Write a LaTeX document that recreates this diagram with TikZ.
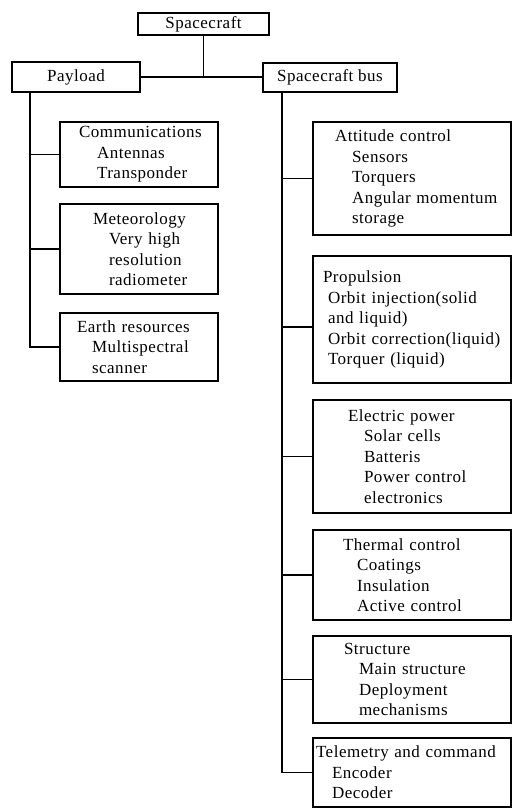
\documentclass[tikz,border=0pt]{standalone}
\usepackage{fontspec}
\setmainfont{Liberation Serif}[LetterSpace=3]
\usetikzlibrary{positioning, calc}
\newcommand{\indnt}[1]{\hspace*{#1pt}}

\begin{document}
\begin{tikzpicture}[x=1pt,y=-1pt,
  box/.style={rectangle, draw, line width=1.9pt, inner sep=0pt, font=\fontsize{17}{20.5}\selectfont},
  head/.style={box, align=center, minimum height=25pt},
  leftbox/.style={box, text width=158pt, align=left},
  rightbox/.style={box, text width=198pt, align=left},
  link/.style={line width=1.7pt}]
\useasboundingbox (0,0) rectangle (517,810);
% top level
\node[head, minimum width=131pt, minimum height=22pt] (sc) at (203.5,24) {Spacecraft};
\node[head, minimum width=128pt, minimum height=30pt] (pay) at (76,77) {Payload};
\node[head, minimum width=134pt, minimum height=29pt] (bus) at (330,77.5) {Spacecraft bus};
\draw[link] (pay.east) -- (pay.east -| bus.west);
\draw[link] (sc.south) -- (sc.south |- pay.east);
% payload items
\node[leftbox, minimum height=65pt] (comm) at (139,154.5) {\indnt{19}Communications\\\indnt{37}Antennas\\\indnt{37}Transponder};
\node[leftbox, minimum height=90pt] (met) at (139,249) {\indnt{33}Meteorology\\\indnt{49}Very high\\\indnt{49}resolution\\\indnt{49}radiometer};
\node[leftbox, minimum height=68pt] (earth) at (139,347) {\indnt{17}Earth resources\\\indnt{32}Multispectral\\\indnt{32}scanner};
\coordinate (paytrunk) at ($(pay.south west)+(19,0)$);
\draw[link] (paytrunk) |- (comm.west);
\draw[link] (paytrunk) |- (met.west);
\draw[link] (paytrunk) |- (earth.west);
% bus items
\node[rightbox, minimum height=113pt] (att) at (412,178.5) {\indnt{22}Attitude control\\\indnt{39}Sensors\\\indnt{39}Torquers\\\indnt{39}Angular momentum\\\indnt{39}storage};
\node[rightbox, minimum height=127pt] (prop) at (412,319.5) {\indnt{10}Propulsion\\\indnt{15}Orbit injection(solid\\\indnt{15}and liquid)\\\indnt{15}Orbit correction(liquid)\\\indnt{15}Torquer (liquid)};
\node[rightbox, minimum height=113pt] (elec) at (412,456.5) {\indnt{35}Electric power\\\indnt{51}Solar cells\\\indnt{51}Batteris\\\indnt{51}Power control\\\indnt{51}electronics};
\node[rightbox, minimum height=90pt] (therm) at (412,575) {\indnt{30}Thermal control\\\indnt{44}Coatings\\\indnt{44}Insulation\\\indnt{44}Active control};
\node[rightbox, minimum height=87pt] (struc) at (412,679.5) {\indnt{31}Structure\\\indnt{46}Main structure\\\indnt{46}Deployment\\\indnt{46}mechanisms};
\node[rightbox, minimum height=69pt] (tele) at (412,772.5) {\indnt{3}Telemetry and command\\\indnt{19}Encoder\\\indnt{19}Decoder};
\coordinate (bustrunk) at ($(bus.south west)+(20,0)$);
\draw[link] (bustrunk) |- (att.west);
\draw[link] (bustrunk) |- ([yshift=-7.5pt]prop.west);
\draw[link] (bustrunk) |- (elec.west);
\draw[link] (bustrunk) |- (therm.west);
\draw[link] (bustrunk) |- (struc.west);
\draw[link] (bustrunk) |- (tele.west);
\end{tikzpicture}
\end{document}
